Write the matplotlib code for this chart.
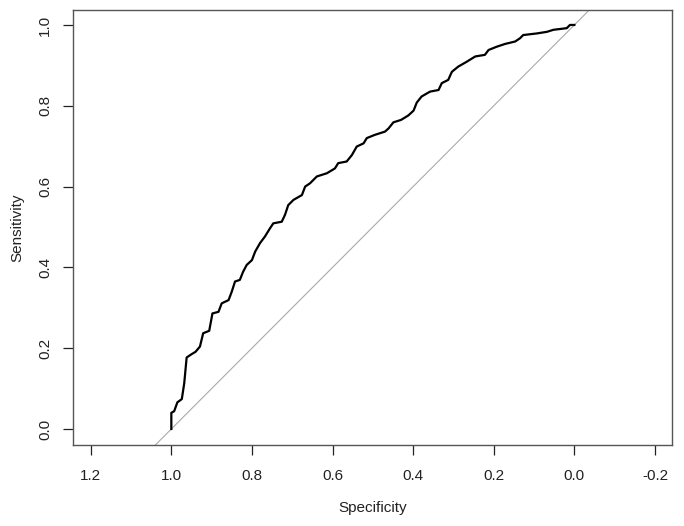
import matplotlib
matplotlib.use("Agg")
import matplotlib.pyplot as plt

# ROC curve (specificity, sensitivity)
specificity = [
    1.000, 1.000, 0.993, 0.985, 0.974, 0.968, 0.962, 0.950, 0.940, 0.929, 0.921,
    0.906, 0.898, 0.883, 0.875, 0.858, 0.850, 0.842, 0.830, 0.822, 0.813,
    0.800, 0.792, 0.780, 0.768, 0.755, 0.747, 0.726, 0.718, 0.710, 0.697,
    0.676, 0.668, 0.656, 0.639, 0.614, 0.594, 0.586, 0.565, 0.552, 0.540,
    0.523, 0.515, 0.495, 0.470, 0.461, 0.449, 0.430, 0.412, 0.399, 0.391,
    0.379, 0.358, 0.337, 0.329, 0.313, 0.304, 0.288, 0.267, 0.246, 0.222,
    0.213, 0.193, 0.172, 0.147, 0.135, 0.127, 0.093, 0.068, 0.052, 0.019,
    0.011, 0.000,
]
sensitivity = [
    0.000, 0.040, 0.044, 0.066, 0.074, 0.113, 0.177, 0.185, 0.191, 0.204, 0.237,
    0.243, 0.286, 0.290, 0.311, 0.319, 0.340, 0.365, 0.369, 0.389, 0.406,
    0.418, 0.439, 0.460, 0.476, 0.497, 0.509, 0.513, 0.530, 0.554, 0.567,
    0.579, 0.600, 0.608, 0.625, 0.633, 0.645, 0.658, 0.662, 0.678, 0.699,
    0.707, 0.720, 0.728, 0.736, 0.744, 0.759, 0.765, 0.776, 0.788, 0.808,
    0.823, 0.835, 0.839, 0.856, 0.864, 0.884, 0.897, 0.909, 0.922, 0.926,
    0.938, 0.946, 0.953, 0.959, 0.967, 0.975, 0.979, 0.983, 0.988, 0.992,
    1.000, 1.000,
]
x_ticks = [1.2, 1.0, 0.8, 0.6, 0.4, 0.2, 0.0, -0.2]
y_ticks = [0.0, 0.2, 0.4, 0.6, 0.8, 1.0]

plt.rcParams["font.family"] = ["Liberation Sans", "DejaVu Sans"]

fig = plt.figure(figsize=(6.84, 5.26), dpi=100)
ax = fig.add_axes([0.1067, 0.154, 0.8753, 0.827])

# identity line sens = 1 - spec
ax.axline((1.0, 0.0), (0.0, 1.0), color="#aaaaaa", lw=0.8, zorder=1)
ax.plot(specificity, sensitivity, color="black", lw=1.6, zorder=2)

ax.set_xlim(1.244, -0.2414)
ax.set_ylim(-0.0396, 1.037)
ax.set_xticks(x_ticks)
ax.set_xticklabels([f"{v:.1f}" for v in x_ticks])
ax.set_yticks(y_ticks)
ax.set_yticklabels([f"{v:.1f}" for v in y_ticks], rotation=90, va="center")

for s in ax.spines.values():
    s.set_color("#555555")
    s.set_linewidth(1.0)
ax.tick_params(direction="out", length=7, width=0.9, color="#222222",
               labelcolor="#222222", labelsize=11)
ax.tick_params(axis="x", pad=10)
ax.tick_params(axis="y", pad=8)

ax.set_xlabel("Specificity", fontsize=11, color="#222222", labelpad=13)
ax.set_ylabel("Sensitivity", fontsize=11, color="#222222", labelpad=10)

fig.savefig("out.png", dpi=100)
